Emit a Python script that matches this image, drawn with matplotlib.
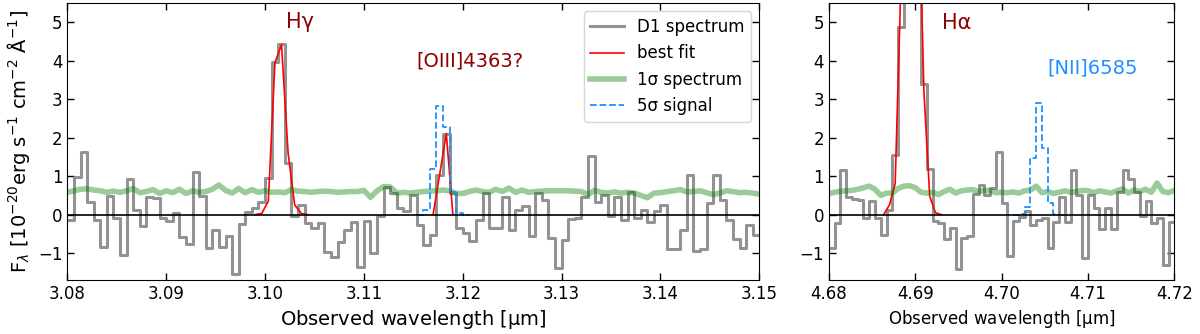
import numpy as np
import matplotlib
matplotlib.use("Agg")
import matplotlib.pyplot as plt

# pixel grid of the spectrum (micron per bin)
dw = 1.0 / 1500.0
left_start = 3.08
right_start = 4.68

# D1 spectrum, flux per bin, 3.08 - 3.15 um
flux_left = [
    -0.13, 0.97, 1.63, 0.33, -0.13, -0.85, 0.48, -0.10, -1.06, 0.93,
    0.11, -0.30, 0.46, 0.42, -0.09, -0.17, 0.04, -0.58, -0.76, 1.12,
    0.48, -0.87, -0.39, -0.85, -0.55, -1.54, -0.24, 0.06, 0.16, 0.32,
    0.95, 3.98, 4.43, 1.34, -0.04, 0.26, -0.23, -0.35, -0.23, -0.98,
    -1.10, -0.70, -0.40, -0.20, -1.36, -0.17, -0.99, -0.04, 0.73, 0.56,
    0.17, 0.09, 0.52, -0.26, -0.78, -0.52, 1.04, 2.10, 0.56, -0.36,
    -0.47, -0.69, -0.15, 0.56, -0.34, -0.35, 0.47, -0.41, 0.13, 0.22,
    -0.56, 0.56, 0.39, -0.60, -1.38, -0.65, -0.11, -0.09, 0.47, 1.53,
    0.34, 0.52, -0.04, 0.47, -0.15, 0.58, -0.09, 0.13, -0.20, 0.09,
    0.26, -0.90, -0.90, -0.39, 1.03, -0.95, -0.90, 0.30, 1.03, 0.39,
    -0.13, -0.63, -0.86, -0.26, -0.52,
]

# D1 spectrum, flux per bin, 4.68 - 4.72 um
flux_right = [
    -0.88, -0.22, 1.15, 0.46, 0.40, 0.38, -0.10, 0.36, -0.10, -0.52,
    0.11, 1.54, 4.89, 13.0, 15.5, 9.5, 3.39, 1.19, -0.17, -0.22,
    -0.63, -0.35, -1.41, -0.61, -0.56, 0.54, 0.78, 0.52, 0.69, 1.64,
    0.30, -1.08, -0.17, -0.05, 0.10, -0.26, -0.13, -0.09, -0.87, -0.20,
    0.47, -0.20, 1.17, 0.50, -1.13, 0.52, 0.17, -0.37, 0.17, -0.37,
    0.58, 1.15, 0.92, 0.58, -0.04, 0.35, -0.22, -0.09, -1.30, -0.20,
]

# 1 sigma noise spectrum, at the bin edges
sigma_left = [
    0.58, 0.62, 0.66, 0.67, 0.64, 0.62, 0.58, 0.61, 0.58, 0.62,
    0.68, 0.57, 0.60, 0.65, 0.55, 0.62, 0.57, 0.66, 0.55, 0.62,
    0.58, 0.60, 0.66, 0.77, 0.63, 0.56, 0.68, 0.57, 0.65, 0.58,
    0.62, 0.58, 0.59, 0.57, 0.65, 0.61, 0.60, 0.58, 0.60, 0.61,
    0.60, 0.58, 0.59, 0.60, 0.60, 0.63, 0.45, 0.62, 0.73, 0.72,
    0.56, 0.58, 0.56, 0.58, 0.60, 0.61, 0.62, 0.64, 0.62, 0.55,
    0.55, 0.60, 0.64, 0.60, 0.58, 0.66, 0.60, 0.69, 0.58, 0.64,
    0.58, 0.60, 0.61, 0.62, 0.62, 0.62, 0.62, 0.61, 0.60, 0.52,
    0.63, 0.58, 0.56, 0.59, 0.56, 0.58, 0.56, 0.50, 0.44, 0.56,
    0.57, 0.60, 0.62, 0.65, 0.59, 0.60, 0.62, 0.57, 0.52, 0.56,
    0.62, 0.60, 0.57, 0.58, 0.56, 0.53,
]
sigma_right = [
    0.55, 0.58, 0.61, 0.62, 0.63, 0.66, 0.70, 0.74, 0.66, 0.50,
    0.56, 0.56, 0.68, 0.74, 0.75, 0.70, 0.58, 0.56, 0.58, 0.52,
    0.60, 0.66, 0.56, 0.62, 0.64, 0.65, 0.60, 0.63, 0.62, 0.57,
    0.58, 0.57, 0.59, 0.56, 0.62, 0.64, 0.74, 0.57, 0.60, 0.55,
    0.58, 0.62, 0.58, 0.60, 0.63, 0.62, 0.57, 0.62, 0.59, 0.56,
    0.62, 0.67, 0.56, 0.64, 0.60, 0.66, 0.58, 0.82, 0.60, 0.57,
    0.63,
]

# best fit models at bin centres (first bin index, values)
hg_fit_k0 = 28
hg_fit = [0.0, 0.03, 0.35, 3.95, 4.42, 1.6, 0.25, 0.03, 0.0]
oiii_fit_k0 = 55
oiii_fit = [0.0, 1.05, 2.11, 0.0]
ha_fit_k0 = 9
ha_fit = [0.0, 0.25, 0.8, 6.0, 14.5, 16.0, 9.0, 3.2, 0.48, 0.05, 0.0]

# 5 sigma signal per bin (first bin index, values)
oiii_5sig_k0 = 53
oiii_5sig = [0.0, 0.13, 1.18, 2.82, 2.28, 0.58, 0.04, 0.0]
nii_5sig_k0 = 32
nii_5sig = [0.0, 0.02, 0.21, 1.46, 2.89, 1.72, 0.30, 0.02, 0.0]

left_ticks = [3.08, 3.09, 3.10, 3.11, 3.12, 3.13, 3.14, 3.15]
right_ticks = [4.68, 4.69, 4.70, 4.71, 4.72]

darkred = '#8b0000'
blue = '#1e90ff'


def steps(ax, start, k0, vals, **kw):
    vals = np.asarray(vals, dtype=float)
    edges = start + dw * np.arange(k0, k0 + len(vals) + 1)
    return ax.step(edges, np.append(vals, vals[-1]), where='post', **kw)


def centres(start, k0, n):
    return start + dw * (np.arange(k0, k0 + n) + 0.5)


def style(ax, xlim, ticks):
    ax.set_xlim(*xlim)
    ax.set_ylim(-1.7, 5.5)
    ax.set_xticks(ticks)
    ax.set_xticklabels(['%.2f' % t for t in ticks])
    ax.set_yticks([-1, 0, 1, 2, 3, 4, 5])
    ax.tick_params(direction='in', top=True, right=True, labelsize=12,
                   length=5, width=1)
    ax.axhline(0, color='k', lw=1.2, zorder=5)


fig = plt.figure(figsize=(12, 3.34), dpi=100)
ax1 = fig.add_axes([0.0561, 0.1617, 0.5767, 0.829])
ax2 = fig.add_axes([0.6908, 0.1617, 0.2878, 0.829])

# left panel: H gamma and [OIII]4363
l1, = steps(ax1, left_start, 0, flux_left, color='gray', alpha=0.85, lw=2.2)
l2, = ax1.plot(centres(left_start, hg_fit_k0, len(hg_fit)), hg_fit, color='red', lw=1.2)
ax1.plot(centres(left_start, oiii_fit_k0, len(oiii_fit)), oiii_fit, color='red', lw=1.2)
l3, = ax1.plot(left_start + dw * np.arange(len(sigma_left)), sigma_left,
               color='green', alpha=0.4, lw=4)
l4, = steps(ax1, left_start, oiii_5sig_k0, oiii_5sig, color=blue, ls='--', lw=1.3)
style(ax1, (3.08, 3.15), left_ticks)
ax1.set_xlabel('Observed wavelength [$\\mathrm{\\mu}$m]', fontsize=14)
ax1.set_ylabel('F$_\\lambda$ [10$^{-20}$erg s$^{-1}$ cm$^{-2}$ $\\mathrm{\\AA}^{-1}$]',
               fontsize=14)
ax1.text(3.1035, 5.0, 'H\u03b3', color=darkred, fontsize=15, ha='center', va='center')
ax1.text(3.1207, 4.0, '[OIII]4363?', color=darkred, fontsize=14, ha='center', va='center')
ax1.legend([l1, l2, l3, l4], ['D1 spectrum', 'best fit', '1\u03c3 spectrum', '5\u03c3 signal'],
           loc='upper right', fontsize=12)

# right panel: H alpha and [NII]6585
steps(ax2, right_start, 0, flux_right, color='gray', alpha=0.85, lw=2.2)
ax2.plot(centres(right_start, ha_fit_k0, len(ha_fit)), ha_fit, color='red', lw=1.2)
ax2.plot(right_start + dw * np.arange(len(sigma_right)), sigma_right,
         color='green', alpha=0.4, lw=4)
steps(ax2, right_start, nii_5sig_k0, nii_5sig, color=blue, ls='--', lw=1.3)
style(ax2, (4.68, 4.72), right_ticks)
ax2.set_xlabel('Observed wavelength [$\\mathrm{\\mu}$m]', fontsize=12)
ax2.text(4.6948, 4.97, 'H\u03b1', color=darkred, fontsize=15, ha='center', va='center')
ax2.text(4.7105, 3.8, '[NII]6585', color=blue, fontsize=14, ha='center', va='center')

fig.savefig('out.png', dpi=100)
